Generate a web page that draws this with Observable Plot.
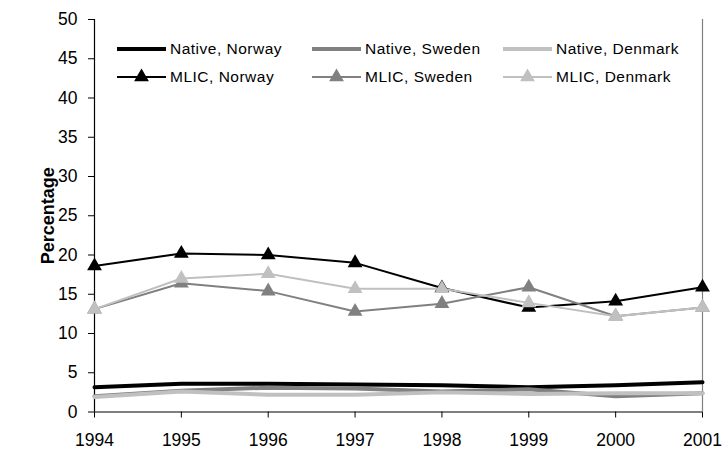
<!DOCTYPE html>
<html>
<head>
<meta charset="utf-8">
<script src="https://cdn.jsdelivr.net/npm/d3@7"></script>
<script src="https://cdn.jsdelivr.net/npm/@observablehq/plot@0.6"></script>
<style>
  html, body { margin: 0; padding: 0; background: #fff; }
  #wrap { position: relative; width: 723px; height: 458px; overflow: hidden; font-family: "Liberation Sans", Arial, sans-serif; }
  #legend { position: absolute; left: 0; top: 0; width: 723px; height: 100px; pointer-events: none; }
  .item { position: absolute; display: flex; align-items: center; height: 20px; font-size: 15.5px; letter-spacing: 0.5px; color: #000; white-space: nowrap; }
  .item svg { margin-right: 4px; }
  #wrap svg text { font-size: 17.5px !important; }
  #wrap svg g[aria-label="y-axis label"] text { font-weight: bold !important; font-size: 18px !important; }
</style>
</head>
<body>
<div id="wrap"><div id="legend"></div></div>
<script>
const years = [1994, 1995, 1996, 1997, 1998, 1999, 2000, 2001];
const yTicks = [0, 5, 10, 15, 20, 25, 30, 35, 40, 45, 50];

const nativeNorway  = [3.15, 3.6, 3.6, 3.5, 3.4, 3.15, 3.4, 3.8];
const nativeSweden  = [2.0, 2.7, 3.1, 3.0, 2.6, 2.9, 2.0, 2.4];
const nativeDenmark = [1.9, 2.6, 2.2, 2.2, 2.5, 2.3, 2.4, 2.4];
const mlicNorway    = [18.6, 20.2, 20.0, 19.0, 15.8, 13.3, 14.1, 15.9];
const mlicSweden    = [13.1, 16.4, 15.4, 12.8, 13.8, 15.9, 12.2, 13.3];
const mlicDenmark   = [13.1, 17.0, 17.6, 15.7, 15.7, 13.9, 12.2, 13.3];

const seriesNames = ["Native, Norway", "Native, Sweden", "Native, Denmark", "MLIC, Norway", "MLIC, Sweden", "MLIC, Denmark"];
const seriesValues = [nativeNorway, nativeSweden, nativeDenmark, mlicNorway, mlicSweden, mlicDenmark];
const seriesColors = ["#000000", "#808080", "#c0c0c0", "#000000", "#808080", "#c0c0c0"];
const seriesIsMLIC = [false, false, false, true, true, true];

const series = seriesNames.map((name, i) => ({
  name, color: seriesColors[i], mlic: seriesIsMLIC[i],
  data: years.map((year, j) => ({year, value: seriesValues[i][j]}))
}));

const marks = [
  Plot.axisX({ticks: years, tickFormat: d => String(d), tickSize: 6, tickPadding: 16, label: null}),
  Plot.axisY({ticks: yTicks, tickSize: 6, tickPadding: 11, label: "Percentage", labelAnchor: "center", labelArrow: "none", labelOffset: 53}),
  Plot.ruleX([2001], {stroke: "#808080", strokeWidth: 1.2}),
  Plot.ruleX([1994], {stroke: "#000", strokeWidth: 1.2}),
  Plot.ruleY([0], {stroke: "#000", strokeWidth: 1.2})
];
for (const s of series.filter(s => !s.mlic)) {
  marks.push(Plot.line(s.data, {x: "year", y: "value", stroke: s.color, strokeWidth: 4}));
}
for (const s of series.filter(s => s.mlic)) {
  marks.push(Plot.line(s.data, {x: "year", y: "value", stroke: s.color, strokeWidth: 2}));
  marks.push(Plot.dot(s.data, {x: "year", y: "value", symbol: "triangle", fill: s.color, stroke: "none", r: 5.5}));
}

const chart = Plot.plot({
  width: 723, height: 458,
  marginLeft: 94, marginRight: 21, marginTop: 19, marginBottom: 46.5,
  x: {type: "linear", domain: [1994, 2001]},
  y: {domain: [0, 50]},
  style: {fontFamily: "'Liberation Sans', Arial, sans-serif", fontSize: "17px", color: "#000", overflow: "hidden"},
  marks
});
document.getElementById("wrap").prepend(chart);

// legend
const legendX = [117, 312, 503];
const legendY = [39, 67];
const legend = d3.select("#legend");
series.forEach((s, i) => {
  const col = i % 3, row = Math.floor(i / 3);
  const item = legend.append("div").attr("class", "item")
    .style("left", legendX[col] + "px").style("top", legendY[row] + "px");
  const sw = item.append("svg").attr("width", 49).attr("height", 20);
  sw.append("line").attr("x1", 0).attr("x2", 49).attr("y1", 10).attr("y2", 10)
    .attr("stroke", s.color).attr("stroke-width", s.mlic ? 2 : 4);
  if (s.mlic) {
    sw.append("path").attr("d", d3.symbol(d3.symbolTriangle, Math.PI * 5.5 * 5.5)())
      .attr("transform", "translate(24.5,10)").attr("fill", s.color);
  }
  item.append("span").text(s.name);
});
</script>
</body>
</html>
